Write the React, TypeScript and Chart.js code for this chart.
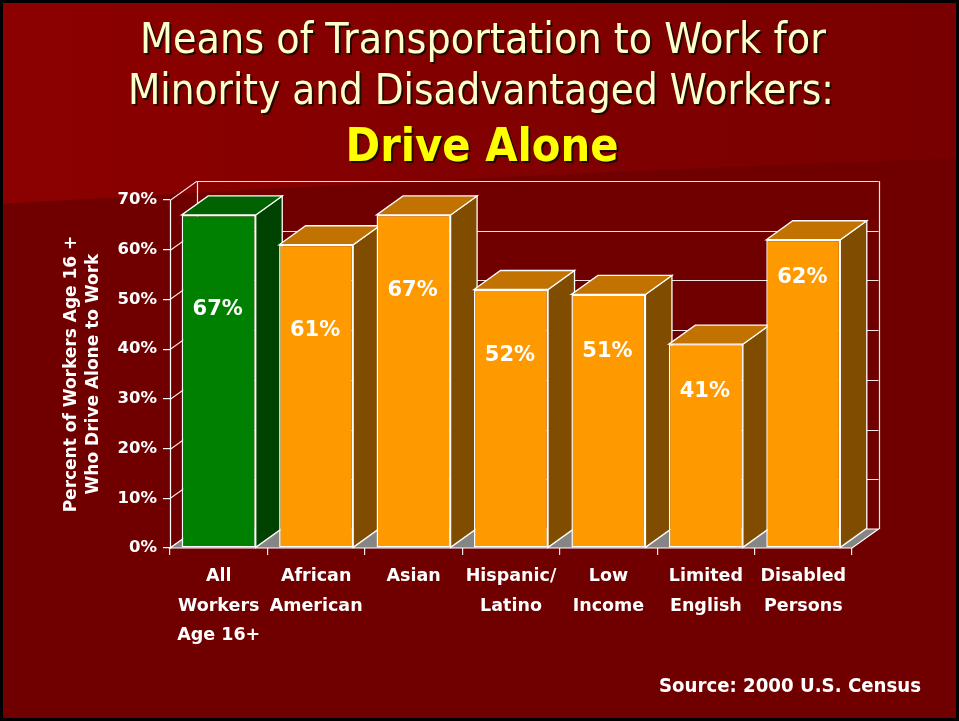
import React, { useEffect, useRef } from "react";
import { Chart, registerables } from "chart.js";

Chart.register(...registerables);

// ---------- data ----------
const categories: string[][] = [
  ["All", "Workers", "Age 16+"],
  ["African", "American"],
  ["Asian"],
  ["Hispanic/", "Latino"],
  ["Low", "Income"],
  ["Limited", "English"],
  ["Disabled", "Persons"],
];
const driveAlonePct = [67, 61, 67, 52, 51, 41, 62];
const yTickValues = [0, 10, 20, 30, 40, 50, 60, 70];
const titleLines = ["Means of Transportation to Work for", "Minority and Disadvantaged Workers:"];
const subtitleText = "Drive Alone";
const yAxisTitle = ["Percent of Workers Age 16 +", "Who Drive Alone to Work"];
const sourceNote = "Source: 2000 U.S. Census";

// ---------- style ----------
const FONT = "'DejaVu Sans', 'Liberation Sans', sans-serif";
const DX = 26.5;
const DY = -19;
const GRID = "#f2e4e4";
const EDGE = "#ffffff";
const FRONT = ["#008000", "#ff9900"];
const TOP = ["#006200", "#c27200"];
const SIDE = ["#004200", "#804c00"];
const FLOOR = "#858585";

const poly = (ctx: CanvasRenderingContext2D, pts: number[][], fill: string | null, stroke: string | null, lw = 1) => {
  ctx.beginPath();
  ctx.moveTo(pts[0][0], pts[0][1]);
  for (let i = 1; i < pts.length; i++) ctx.lineTo(pts[i][0], pts[i][1]);
  ctx.closePath();
  if (fill) {
    ctx.fillStyle = fill;
    ctx.fill();
  }
  if (stroke) {
    ctx.strokeStyle = stroke;
    ctx.lineWidth = lw;
    ctx.stroke();
  }
};

const slidePlugin = {
  id: "slide3d",
  beforeDraw(chart: any) {
    const { ctx, width, height } = chart;
    ctx.save();
    ctx.fillStyle = "#700000";
    ctx.fillRect(0, 0, width, height);
    const g = ctx.createLinearGradient(0, 0, width, 0);
    g.addColorStop(0, "#8c0000");
    g.addColorStop(1, "#790000");
    ctx.beginPath();
    ctx.moveTo(0, 0);
    ctx.lineTo(width, 0);
    ctx.lineTo(width, 158);
    ctx.quadraticCurveTo(470, 176, 0, 204);
    ctx.closePath();
    ctx.fillStyle = g;
    ctx.fill();
    ctx.restore();
  },
  beforeDatasetsDraw(chart: any) {
    const { ctx, chartArea, scales } = chart;
    const { left, right, top, bottom } = chartArea;
    const y = scales.y;
    ctx.save();
    // gridlines: left wall diagonal + back wall horizontal
    ctx.lineWidth = 1.2;
    ctx.strokeStyle = GRID;
    for (const v of yTickValues) {
      const py = Math.round(y.getPixelForValue(v)) + 0.5;
      ctx.beginPath();
      ctx.moveTo(left, py);
      ctx.lineTo(left + DX, py + DY);
      ctx.lineTo(right + DX, py + DY);
      ctx.stroke();
    }
    // back wall verticals
    ctx.beginPath();
    ctx.moveTo(Math.round(left + DX) + 0.5, top + DY);
    ctx.lineTo(Math.round(left + DX) + 0.5, bottom + DY);
    ctx.moveTo(Math.round(right + DX) + 0.5, top + DY);
    ctx.lineTo(Math.round(right + DX) + 0.5, bottom + DY);
    ctx.stroke();
    // front-left wall edge (axis line)
    ctx.strokeStyle = EDGE;
    ctx.beginPath();
    ctx.moveTo(left + 0.5, top);
    ctx.lineTo(left + 0.5, bottom);
    ctx.stroke();
    // floor
    poly(ctx, [[left, bottom], [right, bottom], [right + DX, bottom + DY], [left + DX, bottom + DY]], FLOOR, EDGE, 1.2);
    // bar tops and sides
    const meta = chart.getDatasetMeta(0);
    meta.data.forEach((bar: any, i: number) => {
      const { x, y: ty, base, width } = bar.getProps(["x", "y", "base", "width"], true);
      const x0 = x - width / 2;
      const x1 = x + width / 2;
      const k = i === 0 ? 0 : 1;
      poly(ctx, [[x1, ty], [x1 + DX, ty + DY], [x1 + DX, base + DY], [x1, base]], SIDE[k], EDGE, 1.3);
      poly(ctx, [[x0, ty], [x1, ty], [x1 + DX, ty + DY], [x0 + DX, ty + DY]], TOP[k], EDGE, 1.3);
    });
    ctx.restore();
  },
  afterDatasetsDraw(chart: any) {
    const { ctx } = chart;
    const meta = chart.getDatasetMeta(0);
    ctx.save();
    ctx.fillStyle = "#ffffff";
    ctx.font = `bold 21px ${FONT}`;
    ctx.textAlign = "center";
    ctx.textBaseline = "middle";
    meta.data.forEach((bar: any, i: number) => {
      const { x, y } = bar.getProps(["x", "y"], true);
      ctx.fillText(`${driveAlonePct[i]}%`, x - 1, y + 95 - 9.6 * i);
    });
    ctx.restore();
  },
  afterDraw(chart: any) {
    const { ctx, width, height } = chart;
    ctx.save();
    ctx.textAlign = "center";
    ctx.textBaseline = "alphabetic";
    ctx.shadowColor = "rgba(25,10,0,0.9)";
    ctx.shadowOffsetX = 2;
    ctx.shadowOffsetY = 2;
    ctx.shadowBlur = 0;
    ctx.fillStyle = "#ffffcc";
    ctx.font = `42px ${FONT}`;
    ctx.fillText(titleLines[0], 483, 53, 686);
    ctx.fillText(titleLines[1], 481, 104, 706);
    ctx.fillStyle = "#ffff00";
    ctx.font = `bold 47px ${FONT}`;
    ctx.fillText(subtitleText, 482, 161, 273);
    ctx.shadowColor = "transparent";
    ctx.shadowOffsetX = 0;
    ctx.shadowOffsetY = 0;
    ctx.fillStyle = "#ffffff";
    ctx.font = `bold 19px ${FONT}`;
    ctx.fillText(sourceNote, 790, 692, 262);
    // slide border
    ctx.strokeStyle = "#000000";
    ctx.lineWidth = 3;
    ctx.strokeRect(1.5, 1.5, width - 3, height - 3);
    ctx.restore();
  },
};

export default function App() {
  const ref = useRef<HTMLCanvasElement>(null);
  useEffect(() => {
    document.body.style.margin = "0";
    const chart = new Chart(ref.current as HTMLCanvasElement, {
      type: "bar",
      data: {
        labels: categories,
        datasets: [
          {
            label: "Drive Alone",
            data: driveAlonePct,
            backgroundColor: (c: any) => (c.dataIndex === 0 ? FRONT[0] : FRONT[1]),
            borderColor: EDGE,
            borderWidth: 1.5,
            borderSkipped: false,
            categoryPercentage: 1,
            barPercentage: 0.76,
          },
        ],
      },
      options: {
        responsive: false,
        devicePixelRatio: 1,
        animation: false,
        layout: { padding: { top: 200, right: 107, bottom: 0, left: 0 } },
        plugins: {
          legend: { display: false },
          tooltip: { enabled: false },
          title: { display: false },
        },
        scales: {
          x: {
            afterFit: (s: any) => {
              s.height = 173;
            },
            grid: {
              offset: true,
              drawOnChartArea: false,
              drawTicks: true,
              tickLength: 7,
              color: GRID,
              tickColor: GRID,
              lineWidth: 1.2,
            },
            border: { display: false },
            ticks: {
              color: "#ffffff",
              font: { family: FONT, size: 17.5, weight: "bold", lineHeight: "29.5px" },
              padding: 7,
              autoSkip: false,
              maxRotation: 0,
            },
          },
          y: {
            min: 0,
            max: 70,
            afterFit: (s: any) => {
              s.width = 170;
            },
            grid: {
              drawOnChartArea: false,
              drawTicks: true,
              tickLength: 7,
              color: "#ffffff",
              tickColor: "#ffffff",
              lineWidth: 1.2,
            },
            border: { display: false },
            ticks: {
              stepSize: 10,
              color: "#ffffff",
              font: { family: FONT, size: 16.5, weight: "bold" },
              padding: 6,
              callback: (v: any) => `${v}%`,
            },
            title: {
              display: true,
              text: yAxisTitle,
              color: "#ffffff",
              font: { family: FONT, size: 17, weight: "bold", lineHeight: "22px" },
              padding: { top: 61, bottom: 0 },
            },
          },
        },
      },
      plugins: [slidePlugin],
    } as any);
    return () => chart.destroy();
  }, []);
  return (
    <div style={{ position: "fixed", left: 0, top: 0, width: 959, height: 721 }}>
      <canvas ref={ref} width={959} height={721} style={{ display: "block" }} />
    </div>
  );
}
